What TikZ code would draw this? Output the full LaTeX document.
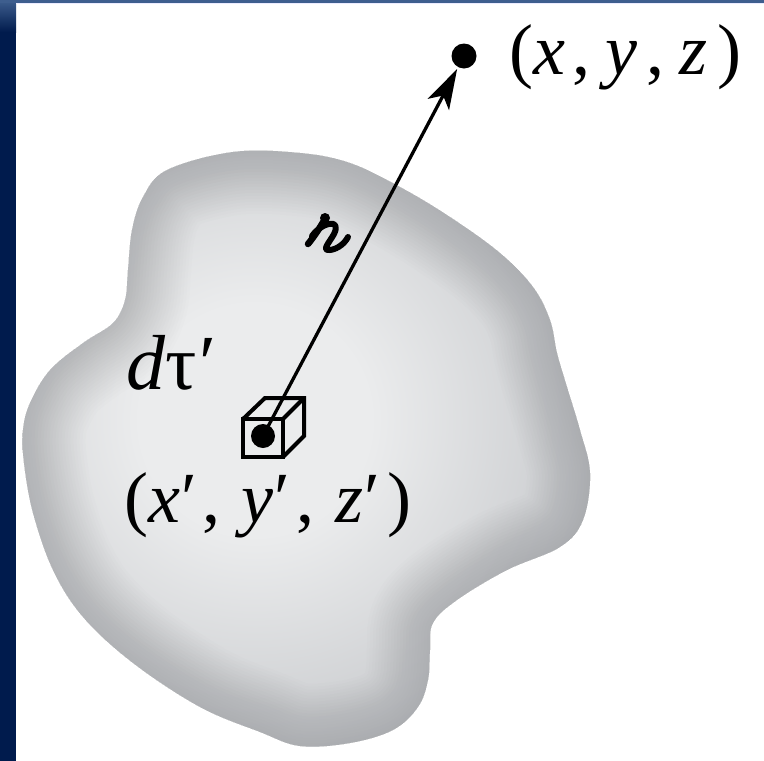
\documentclass[tikz,border=0pt]{standalone}
\usepackage{fontspec}
\setmainfont{Liberation Serif}
\usetikzlibrary{arrows.meta}
\definecolor{navy}{RGB}{0,27,77}
\definecolor{navytop}{RGB}{62,94,142}
\definecolor{blobin}{RGB}{235,236,237}
\definecolor{blobout}{RGB}{198,200,203}
\definecolor{rim}{RGB}{120,122,126}
\pgfdeclareradialshading{blobshade}{\pgfpointorigin}{color(0bp)=(blobin); color(8bp)=(blobin); color(25bp)=(blobout); color(50bp)=(blobout)}
\tikzset{
  dotn/.style={circle, fill=black, inner sep=0pt},
  lbl/.style={anchor=base west, inner sep=0pt},
  cubeline/.style={line width=4pt, line join=miter},
}
\def\blobpath{plot[smooth cycle, tension=0.6] coordinates {(233,152) (300,153) (350,163) (400,187) (450,217) (500,253) (533,287) (550,320) (557,353) (567,387) (580,430) (590,473) (583,520) (560,547) (507,570) (457,600) (433,623) (430,650) (428,680) (418,707) (393,730) (350,743) (300,746) (260,732) (200,707) (133,663) (83,617) (53,570) (33,513) (24,463) (23,430) (30,403) (50,370) (83,343) (113,323) (125,300) (128,270) (132,230) (143,197) (167,170)}}
\begin{document}
\begin{tikzpicture}[x=1pt, y=-1pt]
\useasboundingbox (0,0) rectangle (764,761);
\fill[white] (0,0) rectangle (764,761);
% frame strips
\fill[navy] (0,0) rectangle (16,761);
\shade[top color=navytop, bottom color=navy] (0,0) rectangle (16,32);
\fill[navytop] (0,0) rectangle (764,3);
\fill[blue!8] (16,3) rectangle (764,4.2);
% blob
\begin{scope}
  \clip \blobpath;
  \shade[shading=blobshade] (255,420) circle (360);
  \foreach \w in {6,12,...,126}
    \draw[rim, line width=\w pt, opacity=0.014] \blobpath;
\end{scope}
% points
\node[dotn, minimum size=25pt] (P) at (464,56) {};
\node[dotn, minimum size=24pt] (Q) at (263,436) {};
% cube
\coordinate (c1) at (243,419);
\coordinate (c2) at (283,419);
\coordinate (c3) at (283,457);
\coordinate (c4) at (243,457);
\coordinate (b1) at (265,398);
\coordinate (b2) at (304,398);
\coordinate (b3) at (304,436);
\draw[cubeline] (c1) -- (c2) -- (c3) -- (c4) -- cycle;
\draw[cubeline] (c1) -- (b1) -- (b2) -- (b3) -- (c3);
\draw[cubeline] (c2) -- (b2);
% separation vector
\draw[line width=3.3pt, shorten >=2pt, -{Stealth[length=40pt, width=24pt, inset=10pt]}] (Q.center) -- (P);
% script r
\draw[line width=6.5pt, line cap=round, line join=round] (326,217) .. controls (320,228) and (313,238) .. (308,244);
\fill (325,218) circle (5pt);
\draw[line width=6pt, line cap=round, line join=round] (312,236) .. controls (322,222) and (342,218) .. (334,234) .. controls (329,243) and (321,251) .. (330,250) .. controls (338,249) and (345,243) .. (348,237);
% labels
\node[lbl, font=\fontsize{72}{72}\selectfont] (xyz) at (509,74) {(\textit{x}\kern7pt,\kern15pt\textit{y}\kern9pt,\kern15pt\textit{z}\kern10pt)};
\node[lbl, font=\fontsize{78}{78}\selectfont] (dtau) at (126,389) {\textit{d}τ\kern3pt′};
\node[lbl, font=\fontsize{72}{72}\selectfont] (xyzp) at (124,522) {(\textit{x}\kern1pt′\kern6pt,\kern21pt\textit{y}\kern1pt′\kern6pt,\kern21pt\textit{z}\kern1pt′\kern7pt)};
\end{tikzpicture}
\end{document}
